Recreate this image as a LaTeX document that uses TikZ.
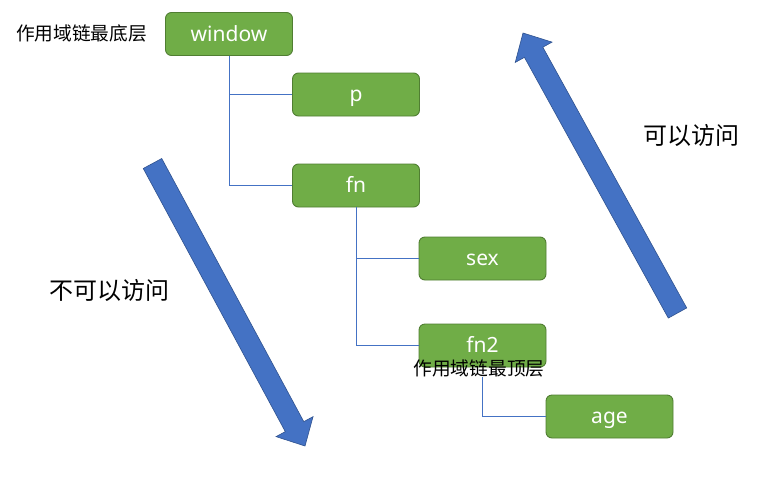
\documentclass[tikz,border=0pt]{standalone}
\usepackage{fontspec}
\newfontfamily\cjk{Noto Sans CJK SC}
\newfontfamily\lat{Noto Sans}
\usetikzlibrary{calc}
\definecolor{boxgreen}{HTML}{70AD47}
\definecolor{boxedge}{HTML}{507E32}
\definecolor{linkblue}{HTML}{4472C4}
\definecolor{arrowedge}{HTML}{2F528F}
\tikzset{
  scopebox/.style={draw=boxedge, line width=0.9pt, fill=boxgreen, rounded corners=6pt,
    minimum width=127pt, minimum height=43pt, inner sep=0pt, text=white,
    text height=14pt, text depth=0pt,
    font=\lat\fontsize{21}{24}\selectfont},
  link/.style={draw=linkblue, line width=1pt},
  smalllabel/.style={font=\cjk\fontsize{18.7}{20}\selectfont, inner sep=0pt, text=black},
  biglabel/.style={font=\cjk\fontsize{24}{26}\selectfont, inner sep=0pt, text=black},
  blockarrow/.style={fill=linkblue, draw=arrowedge, line width=0.6pt, line join=miter}
}
\newcommand{\blockarrow}[2]{%
  \coordinate (BAh) at ($(#2)!22pt!(#1)$);
  \path[blockarrow]
    ($(#1)!10.5pt!90:(#2)$) -- ($(BAh)!10.5pt!-90:(#1)$) -- ($(BAh)!21pt!-90:(#1)$)
    -- (#2) -- ($(BAh)!21pt!90:(#1)$) -- ($(BAh)!10.5pt!90:(#1)$)
    -- ($(#1)!10.5pt!-90:(#2)$) -- cycle;
}
\begin{document}
\begin{tikzpicture}[x=1pt,y=-1pt]
\useasboundingbox[fill=white] (0,0) rectangle (757,482);

\node[scopebox] (window) at (229,34) {window};
\node[scopebox] (p) at (356,94.5) {p};
\node[scopebox] (fn) at (356,185.5) {fn};
\node[scopebox] (sex) at (482.5,258.5) {sex};
\node[scopebox] (fn2) at (482.5,345.5) {fn2};
\node[scopebox] (age) at (609.5,416.5) {age};

\draw[link] (window.south) |- (p.west);
\draw[link] (window.south) |- (fn.west);
\draw[link] (fn.south) |- (sex.west);
\draw[link] (fn.south) |- (fn2.west);

\node[smalllabel] (bottomlabel) at (81.5,33) {作用域链最底层};
\node[smalllabel] (toplabel) at (479,368) {作用域链最顶层};
\draw[link] (fn2.south) ++(0,10) coordinate (fnb) (fnb) |- (age.west);

\node[biglabel] (noaccess) at (109,290) {不可以访问};
\node[biglabel] (access) at (691,135) {可以访问};

\coordinate (dA) at (152.5,163.5);
\coordinate (dB) at (305,446);
\blockarrow{dA}{dB}
\coordinate (uA) at (677.5,313);
\coordinate (uB) at (523,33);
\blockarrow{uA}{uB}
\end{tikzpicture}
\end{document}
